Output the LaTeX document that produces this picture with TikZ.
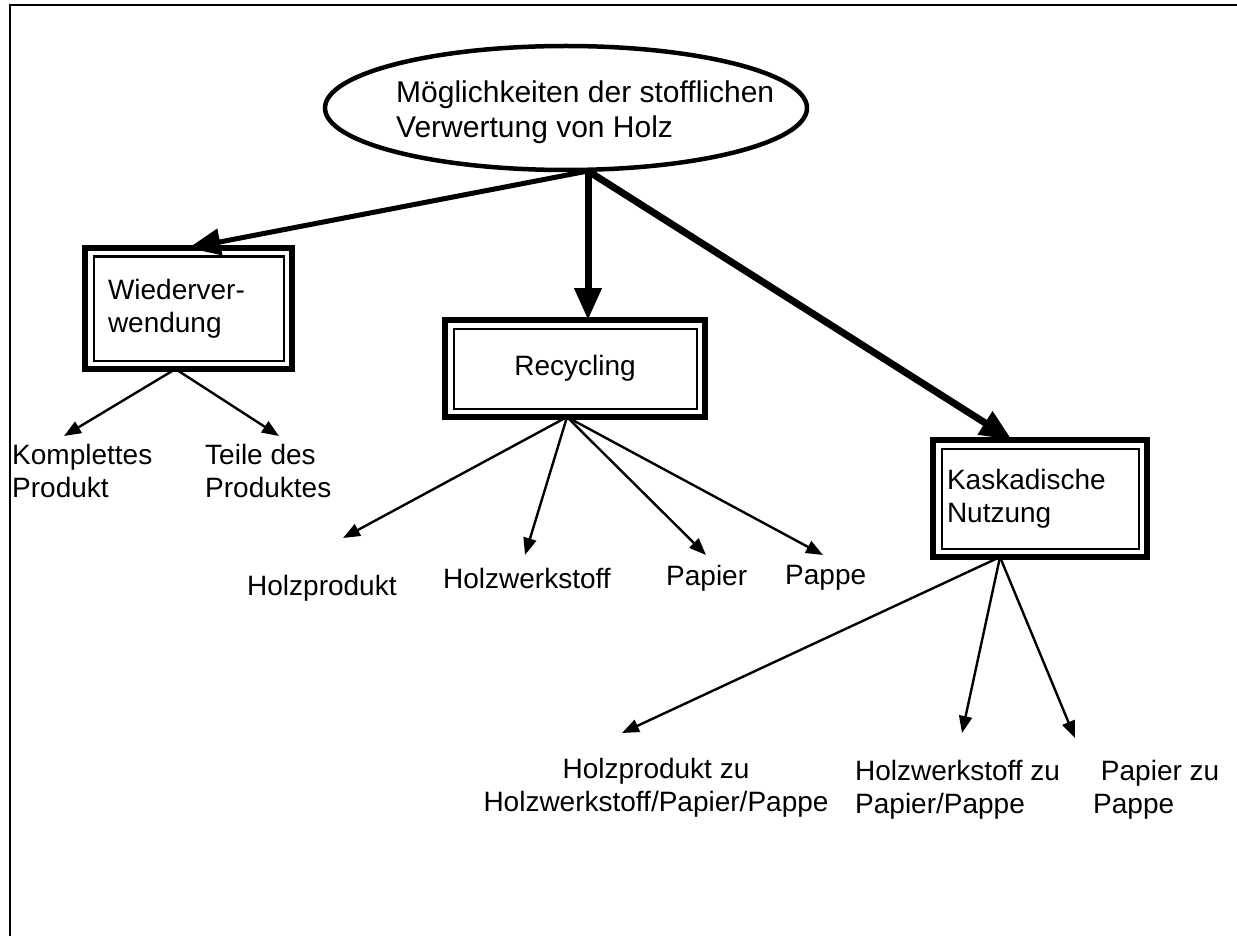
\documentclass[tikz,border=0pt]{standalone}
\usepackage{fontspec}
\setmainfont{Liberation Sans}
\usetikzlibrary{arrows.meta,shapes.geometric,calc}
\begin{document}
\begin{tikzpicture}[x=1pt,y=-1pt,
  txt/.style={font=\fontsize{28}{33}\selectfont},
  lbl/.style={txt, inner sep=0pt, align=left, anchor=west},
  dbox/.style={draw, line width=6pt, rectangle, outer sep=0pt, txt},
  innerframe/.style={draw, line width=2pt},
  thinarrow/.style={line width=2.4pt, -{Triangle[length=17pt,width=13pt]}},
  bigarrow/.style={line width=#1, -{Triangle[length=32pt,width=26pt]}},
]
\useasboundingbox (0,0) rectangle (1237,936);
% frame
\draw[line width=2.5pt] (10,936) -- (10,5) -- (1237,5);

% top ellipse
\node[ellipse, draw, line width=4.5pt, minimum width=482pt, minimum height=124pt, inner sep=0pt, outer sep=0pt] (top) at (566,108) {};
\node[lbl, font=\fontsize{30}{35}\selectfont] (toptext) at (396,112) {Möglichkeiten der stofflichen\\Verwertung von Holz};
\coordinate (O) at (588,171);

% boxes
\node[dbox, minimum width=207pt, minimum height=121pt, inner xsep=23pt, text width=161pt, align=left] (W) at (188.5,308.5) {Wiederver-\\wendung};
\node[dbox, minimum width=260pt, minimum height=97pt, align=center] (R) at (575,368.5) {Recycling};
\node[dbox, minimum width=214pt, minimum height=117pt, inner xsep=14pt, text width=186pt, align=left] (K) at (1040,498.5) {Kaskadische\\Nutzung};
\foreach \b in {W,R,K}{
  \draw[innerframe] ([shift={(8.5,8.5)}]\b.north west) rectangle ([shift={(-8.5,-8.5)}]\b.south east);
}

% main arrows
\draw[bigarrow=5pt] (O) -- (W.north);
\draw[bigarrow=7pt] (O) -- ([xshift=13pt]R.north);
\draw[bigarrow=7pt] (O) -- ([xshift=-28pt]K.north);

% Wiederverwendung children
\node[lbl] (kp) at (12,471) {Komplettes\\Produkt};
\node[lbl] (tp) at (205,471) {Teile des\\Produktes};
\coordinate (wv) at ([xshift=-13pt]W.south);
\coordinate (kpt) at (64,436);
\coordinate (tpt) at (279,436);
\draw[thinarrow] (wv) -- (kpt);
\draw[thinarrow] (wv) -- (tpt);

% Recycling children
\node[lbl] (hp) at (247,588) {Holzprodukt};
\node[lbl] (hw) at (443,578) {Holzwerkstoff};
\node[lbl] (pa) at (666,578) {Papier};
\node[lbl] (pp) at (785,578) {Pappe};
\coordinate (rv) at ([xshift=-8pt]R.south);
\coordinate (hpt) at (343,538);
\coordinate (hwt) at (525,555);
\coordinate (pat) at (706,555);
\coordinate (ppt) at (823,555);
\draw[thinarrow] (rv) -- (hpt);
\draw[thinarrow] (rv) -- (hwt);
\draw[thinarrow] (rv) -- (pat);
\draw[thinarrow] (rv) -- (ppt);

% Kaskadische children
\node[txt, inner sep=0pt, align=center] (k1) at (656,788) {Holzprodukt zu\\Holzwerkstoff/Papier/Pappe};
\node[lbl] (k2) at (855,790) {Holzwerkstoff zu\\Papier/Pappe};
\node[lbl] (k3) at (1093,790) {\ Papier zu\\Pappe};
\coordinate (kv) at ([xshift=-40pt]K.south);
\coordinate (k1t) at (622,733);
\coordinate (k2t) at (962,733);
\coordinate (k3t) at (1075,738);
\draw[thinarrow] (kv) -- (k1t);
\draw[thinarrow] (kv) -- (k2t);
\draw[thinarrow] (kv) -- (k3t);
\end{tikzpicture}
\end{document}
